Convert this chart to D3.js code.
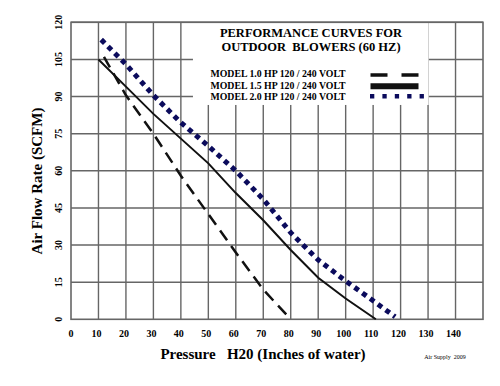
<!DOCTYPE html>
<html>
<head>
<meta charset="utf-8">
<script src="https://cdn.jsdelivr.net/npm/d3@7"></script>
<style>
  body { margin: 0; background: #fff; }
  text { font-family: "Liberation Serif", "Times New Roman", serif; }
</style>
</head>
<body>
<script>
// tick values
var xTicks = [0, 10, 20, 30, 40, 50, 60, 70, 80, 90, 100, 110, 120, 130, 140];
var yTicks = [0, 15, 30, 45, 60, 75, 90, 105, 120];

// curves: [pressure, flow]
var hp10 = [[12, 106], [20, 90.5], [30, 75], [40, 58], [50, 42.5], [60, 27], [70, 12], [80, 0]];
var hp15 = [[10, 105], [20, 94], [30, 83], [40, 73], [50, 63], [60, 51], [70, 40], [80, 28], [90, 16.8], [100, 8.4], [111, 0]];
var hp20 = [[11, 113], [20, 103], [30, 90.5], [40, 79.5], [50, 70], [60, 60], [70, 48.5], [80, 35], [90, 24], [100, 15.5], [110, 7.5], [118, 1]];

var titleLines = ["PERFORMANCE CURVES FOR", "OUTDOOR  BLOWERS (60 HZ)"];
var legendLabels = ["MODEL 1.0 HP 120 / 240 VOLT", "MODEL 1.5 HP 120 / 240 VOLT", "MODEL 2.0 HP 120 / 240 VOLT"];

var navy = "#0b0b5c";
var gridColor = "#666";

var svg = d3.select("body").append("svg")
    .attr("width", 500)
    .attr("height", 386);

var xScale = d3.scaleLinear().domain([0, 150]).range([71, 483]);
var yScale = d3.scaleLinear().domain([0, 120]).range([319.3, 22.3]);

// grid
svg.append("g").selectAll("line").data(xTicks.slice(1)).enter().append("line")
    .attr("x1", function(d){ return xScale(d); })
    .attr("x2", function(d){ return xScale(d); })
    .attr("y1", yScale(0)).attr("y2", yScale(120))
    .attr("stroke", gridColor).attr("stroke-width", 1.4);
svg.append("g").selectAll("line").data(yTicks.slice(1)).enter().append("line")
    .attr("x1", xScale(0)).attr("x2", xScale(150))
    .attr("y1", function(d){ return yScale(d); })
    .attr("y2", function(d){ return yScale(d); })
    .attr("stroke", gridColor).attr("stroke-width", 1.4);

// white box behind the title / legend
svg.append("rect")
    .attr("x", xScale(44.4)).attr("y", yScale(120))
    .attr("width", xScale(130.2) - xScale(44.4))
    .attr("height", yScale(86.6) - yScale(120))
    .attr("fill", "#fff");

// frame
svg.append("rect")
    .attr("x", xScale(0)).attr("y", yScale(120))
    .attr("width", xScale(150) - xScale(0))
    .attr("height", yScale(0) - yScale(120))
    .attr("fill", "none").attr("stroke", gridColor).attr("stroke-width", 1.6);

// tick labels
svg.append("g").selectAll("text").data(xTicks).enter().append("text")
    .attr("x", function(d){ return xScale(d) - (d === 0 ? 0 : 2); })
    .attr("y", 336.5)
    .attr("text-anchor", "middle")
    .attr("font-size", 10).attr("font-weight", "bold")
    .text(function(d){ return d; });
svg.append("g").selectAll("text").data(yTicks).enter().append("text")
    .attr("transform", function(d){ return "translate(62," + yScale(d) + ")rotate(-90)"; })
    .attr("text-anchor", "middle")
    .attr("font-size", 10).attr("font-weight", "bold")
    .text(function(d){ return d; });

// axis titles
svg.append("text")
    .attr("x", 263).attr("y", 358.5)
    .attr("text-anchor", "middle")
    .attr("font-size", 15).attr("font-weight", "bold")
    .attr("xml:space", "preserve")
    .style("white-space", "pre")
    .text("Pressure   H20 (Inches of water)");
svg.append("text")
    .attr("transform", "translate(42,181)rotate(-90)")
    .attr("text-anchor", "middle")
    .attr("font-size", 15).attr("font-weight", "bold")
    .text("Air Flow Rate (SCFM)");
svg.append("text")
    .attr("x", 445).attr("y", 359)
    .attr("text-anchor", "middle")
    .attr("font-size", 6)
    .attr("xml:space", "preserve")
    .style("white-space", "pre")
    .text("Air Supply  2009");

// curves
var line = d3.line()
    .x(function(d){ return xScale(d[0]); })
    .y(function(d){ return yScale(d[1]); });
svg.append("path").attr("d", line(hp10))
    .attr("fill", "none").attr("stroke", "#111").attr("stroke-width", 2.5)
    .attr("stroke-dasharray", "12,7");
svg.append("path").attr("d", line(hp15))
    .attr("fill", "none").attr("stroke", "#111").attr("stroke-width", 2);
svg.append("path").attr("d", line(hp20))
    .attr("fill", "none").attr("stroke", navy).attr("stroke-width", 5)
    .attr("stroke-dasharray", "5,4.6");

// title
svg.append("g").selectAll("text").data(titleLines).enter().append("text")
    .attr("x", 311)
    .attr("y", function(d, i){ return 36.7 + i * 14; })
    .attr("text-anchor", "middle")
    .attr("font-size", 12.5).attr("font-weight", "bold")
    .attr("xml:space", "preserve")
    .style("white-space", "pre")
    .text(function(d){ return d; });

// legend
var legendY = [77.3, 88.5, 99.7];
svg.append("g").selectAll("text").data(legendLabels).enter().append("text")
    .attr("x", 210.5)
    .attr("y", function(d, i){ return legendY[i]; })
    .attr("font-size", 9.8).attr("font-weight", "bold")
    .text(function(d){ return d; });
svg.append("line")
    .attr("x1", 370.5).attr("x2", 418.5).attr("y1", 75).attr("y2", 75)
    .attr("stroke", "#111").attr("stroke-width", 3.3)
    .attr("stroke-dasharray", "17,14");
svg.append("line")
    .attr("x1", 370.5).attr("x2", 418.5).attr("y1", 86.3).attr("y2", 86.3)
    .attr("stroke", "#111").attr("stroke-width", 6);
svg.append("line")
    .attr("x1", 370).attr("x2", 425).attr("y1", 96.3).attr("y2", 96.3)
    .attr("stroke", navy).attr("stroke-width", 4.5)
    .attr("stroke-dasharray", "4.3,8.1");
</script>
</body>
</html>
